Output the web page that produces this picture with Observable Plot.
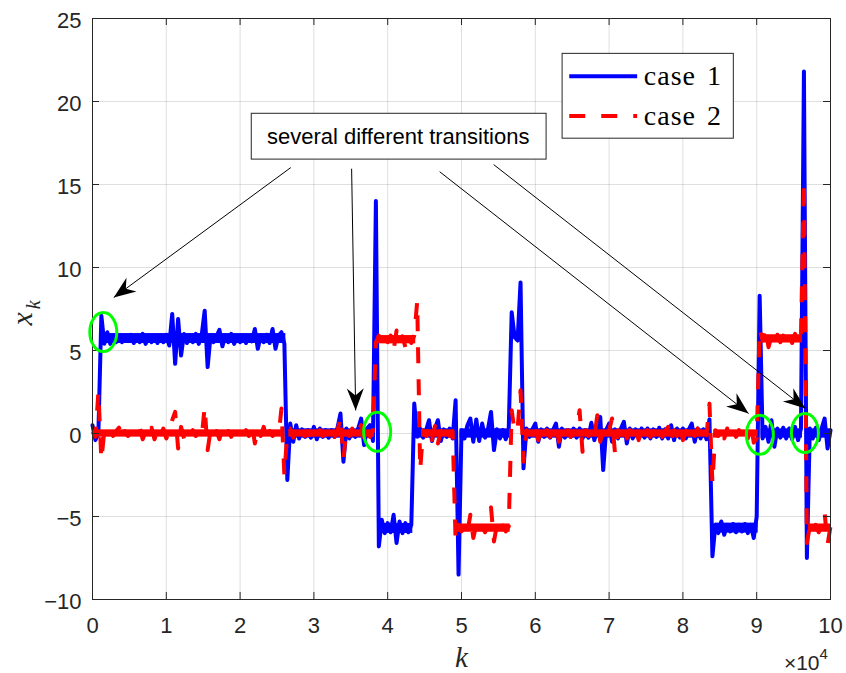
<!DOCTYPE html>
<html><head><meta charset="utf-8">
<script src="https://cdn.jsdelivr.net/npm/d3@7"></script>
<script src="https://cdn.jsdelivr.net/npm/@observablehq/plot@0.6"></script>
<style>
html,body{margin:0;padding:0;background:#fff;}
#chart svg{display:block;}
</style></head><body><div id="chart"></div>
<script>
// sample spacing of the read-off series (k in units of 1e4)
const kStep = 0.04;

// case 1 (blue, solid) values, one per sample
const case1 = [
0.5, -0.4, 0.1, 7.1, 5.4, 6.1, 5.4, 5.9, 5.5, 5.9,
5.5, 5.9, 5.6, 5.95, 5.45, 5.85, 5.5, 6.0, 5.4, 5.9,
5.5, 5.9, 5.45, 5.9, 5.5, 5.95, 5.3, 7.2, 4.2, 6.9,
4.7, 6.0, 5.45, 5.9, 5.5, 6.0, 5.4, 5.95, 7.4, 4.0,
5.9, 5.5, 5.85, 6.25, 5.25, 5.9, 5.5, 6.0, 5.4, 5.85,
5.5, 5.9, 5.45, 5.85, 5.55, 6.3, 5.1, 5.9, 5.5, 5.95,
5.45, 6.3, 5.1, 5.9, 6.1, 5.4, -2.8, 0.6, -0.5, 0.5,
-0.3, 0.25, -0.2, 0.2, -0.25, 0.4, -0.35, 0.3, -0.2, 0.2,
-0.25, 0.2, -0.2, 0.35, 1.2, -1.7, 0.3, -0.3, 0.25, -0.2,
0.3, 0.9, -0.7, 0.3, 0.5, -0.45, 14.0, -6.8, -5.2, -6.0,
-5.4, -5.95, -4.9, -6.6, -5.3, -6.0, -5.4, -5.95, -5.5, 1.8,
-0.2, 0.3, -0.25, 0.2, 0.8, -0.45, 0.3, 0.8, -0.45, 0.25,
-0.2, 0.3, -0.3, 2.0, -8.5, 0.2, -0.3, 0.5, 0.9, -0.5,
0.85, -0.45, 0.6, -0.25, 0.3, 1.3, -1.0, 0.25, -0.3, 0.2,
-0.35, 0.3, 7.3, 5.8, 5.6, 9.1, -2.1, 0.3, -0.2, 0.25,
0.6, -0.5, 0.25, -0.2, 0.3, -0.25, 0.2, 0.6, -0.8, 0.3,
-0.25, 0.2, -0.2, 0.3, -0.25, 0.3, -0.3, 0.2, -0.25, 0.65,
-0.4, 0.3, 1.0, -2.2, 0.2, 0.6, -0.5, 0.25, -0.3, 0.3,
0.7, -0.6, 0.3, -0.3, 0.25, -0.3, 0.3, -0.25, 0.3, -0.3,
0.25, -0.2, 0.35, -0.3, 0.25, -0.3, 0.5, -0.4, 0.3, -0.25,
0.3, -0.3, 0.25, 0.6, -0.5, 0.3, -0.3, 0.25, -0.35, 0.85,
-7.4, -5.5, -6.0, -5.3, -6.1, -5.5, -5.9, -5.45, -5.95, -5.5,
-5.9, -5.45, -6.0, -5.5, -6.3, -5.0, 8.3, -0.3, 0.4, -0.5,
0.8, -0.8, 0.3, -0.25, 0.35, -0.3, 0.3, -0.35, 0.4, -0.4,
0.3, 21.8, -7.5, 0.3, -0.3, 0.35, -0.4, 0.3, 0.9, -0.9, 0.2
];

// case 2 (red, dashed) values, one per sample
const case2 = [
0.1, -0.2, 2.5, -1.6, 0.15, -0.15, 0.1, -0.15, 0.15, 0.35,
-0.35, 0.15, -0.15, 0.1, -0.2, 0.15, 0.35, -0.35, 0.1, -0.15,
0.35, -0.35, 0.15, -0.15, 0.3, -0.3, 0.15, 0.8, 1.3, -0.9,
0.4, -0.3, 0.15, -0.15, 0.2, -0.15, 0.15, -0.2, 1.6, -1.0,
0.2, -0.15, 0.15, -0.35, 0.3, -0.15, 0.15, -0.2, 0.1, -0.15,
0.15, -0.1, 0.2, -0.15, 0.6, -0.6, 0.2, -0.15, 0.4, -0.4,
0.15, -0.15, 0.1, -0.2, 1.5, -2.5, 0.1, 0.3, -0.25, 0.15,
-0.15, 0.2, -0.15, 0.15, -0.2, 0.15, -0.15, 0.2, -0.15, 0.1,
-0.15, 0.15, -0.2, 0.15, 1.0, -1.5, 0.2, -0.15, 0.3, -0.3,
0.2, 0.5, -0.5, 0.2, -0.2, 0.15, 5.5, 5.9, 5.4, 5.85,
5.5, 5.9, 5.0, 6.2, 5.4, 5.85, 5.2, 6.0, 5.45, 5.9,
7.97, -2.2, 0.2, -0.15, 0.4, -0.4, 0.45, -0.6, 0.15, -0.2,
0.2, -0.15, 0.15, -6.5, -5.5, -5.9, -5.5, -5.95, -4.9, -6.3,
-5.5, -5.9, -5.6, -5.95, -5.5, -4.45, -6.5, -5.5, -5.9, -5.55,
-5.9, -5.6, 1.4, 0.1, 0.25, 2.6, -1.7, 0.2, -0.15, 0.2,
0.45, -0.4, 0.2, -0.15, 0.2, -0.2, 0.15, 0.5, -0.5, 0.2,
-0.15, 0.2, -0.2, 0.15, 0.25, 1.4, -1.1, 0.2, -0.15, 0.2,
-0.2, 1.1, -0.5, 0.2, -0.15, 0.2, 0.9, -1.2, 0.2, -0.2,
0.3, -0.3, 0.2, -0.15, 0.4, -0.4, 0.2, -0.15, 0.2, -0.2,
0.15, -0.15, 0.2, -0.2, 0.15, 0.4, -0.45, 0.2, -0.15, 0.4,
-0.4, 0.15, -0.2, 0.2, -0.15, 0.3, -0.3, 0.15, -0.1, 1.8,
-3.0, 0.2, -0.15, 0.3, -0.3, 0.3, -0.35, 0.15, -0.2, 0.2,
-0.15, 0.35, -0.3, 0.6, -0.55, -0.3, 6.3, 5.6, 6.3, 5.2,
5.85, 5.5, 5.95, 5.5, 5.9, 5.5, 5.85, 5.45, 6.0, 5.5,
5.9, 15.2, -6.6, -5.6, -5.9, -5.5, -5.95, -5.6, -4.75, -6.7, -5.6
];

// dense-noise envelope core of each level stretch: [k start, k end, low, high]
const case1Bands = [
  [0.00, 0.10, -0.28, 0.28],
  [0.12, 2.62, 5.42, 6.02],
  [2.66, 3.82, -0.28, 0.28],
  [3.88, 4.34, -6.02, -5.42],
  [4.40, 4.90, -0.28, 0.28],
  [4.98, 5.66, -0.28, 0.28],
  [5.88, 8.38, -0.28, 0.28],
  [8.44, 9.02, -6.0, -5.4],
  [9.06, 9.62, -0.28, 0.28],
  [9.70, 10.0, -0.28, 0.28]
];
const case2Bands = [
  [0.00, 2.56, -0.22, 0.22],
  [2.66, 3.82, -0.22, 0.22],
  [3.86, 4.38, 5.4, 5.9],
  [4.46, 4.90, -0.22, 0.22],
  [4.94, 5.66, -5.95, -5.45],
  [5.86, 8.34, -0.22, 0.22],
  [8.42, 9.02, -0.22, 0.22],
  [9.08, 9.62, 5.45, 5.95],
  [9.70, 10.0, -5.95, -5.45]
];

const xTicks = [0, 1, 2, 3, 4, 5, 6, 7, 8, 9, 10];
const xTickLabels = ["0", "1", "2", "3", "4", "5", "6", "7", "8", "9", "10"];
const yTicks = [-10, -5, 0, 5, 10, 15, 20, 25];
const yTickLabels = ["\u221210", "\u22125", "0", "5", "10", "15", "20", "25"];
const seriesNames = ["case 1", "case 2"];
const annotationText = "several different transitions";

// annotation geometry in data units
const annotationBox = {x1: 2.158, x2: 6.153, y1: 16.50, y2: 19.26, tx: 4.142, ty: 17.88};
const arrows = [
  {x1: 2.687, y1: 16.02, x2: 0.288, y2: 8.19},
  {x1: 3.511, y1: 15.95, x2: 3.566, y2: 1.39},
  {x1: 4.704, y1: 15.77, x2: 8.89, y2: 1.21},
  {x1: 5.436, y1: 16.20, x2: 9.66, y2: 1.51}
];
const circles = [
  {k: 0.153, v: 6.08},
  {k: 3.864, v: 0.07},
  {k: 9.05, v: -0.11},
  {k: 9.66, v: 0.0}
];
const legendBox = {x1: 6.37, x2: 8.69, y1: 17.76, y2: 22.87};
const legendRows = [
  {name: seriesNames[0], y: 21.52, lx1: 6.46, lx2: 7.38, tx: 7.47},
  {name: seriesNames[1], y: 19.13, lx1: 6.46, lx2: 7.38, tx: 7.47}
];

const W = 846, H = 673, mL = 92, mR = 16, mT = 18, mB = 74;
const xDomain = [0, 10], yDomain = [-10, 25];
const xPerPx = (xDomain[1] - xDomain[0]) / (W - mL - mR);
const yPerPx = (yDomain[1] - yDomain[0]) / (H - mT - mB);
const tickLen = 7;

const s1 = case1.map((v, i) => ({k: i * kStep, v}));
const s2 = case2.map((v, i) => ({k: i * kStep, v}));

const axisColor = "#262626";
const blue = "#0000ff", red = "#ff0000";
const sans = "'Liberation Sans', Arial, Helvetica, sans-serif";
const serif = "'Liberation Serif', 'Times New Roman', serif";

const bandOpts = (color) => ({x1: d => d[0], x2: d => d[1], y1: d => d[2], y2: d => d[3], fill: color});

const plot = Plot.plot({
  width: W, height: H,
  marginLeft: mL, marginRight: mR, marginTop: mT, marginBottom: mB,
  x: {domain: xDomain, axis: null},
  y: {domain: yDomain, axis: null},
  style: {fontFamily: sans, fontSize: "22px", color: axisColor, background: "white", overflow: "visible"},
  marks: [
    Plot.ruleX(xTicks, {x: d => d, stroke: axisColor, strokeOpacity: 0.15}),
    Plot.ruleY(yTicks, {y: d => d, stroke: axisColor, strokeOpacity: 0.15}),
    Plot.rect(case1Bands, bandOpts(blue)),
    Plot.line(s1, {x: "k", y: "v", stroke: blue, strokeWidth: 4, strokeLinejoin: "round", strokeLinecap: "round"}),
    Plot.rect(case2Bands, bandOpts(red)),
    Plot.line(s2, {x: "k", y: "v", stroke: red, strokeWidth: 4, strokeDasharray: "16,16", strokeLinejoin: "round", strokeLinecap: "butt"}),
    Plot.frame({stroke: axisColor, strokeWidth: 1}),
    Plot.ruleX(xTicks, {x: d => d, y1: yDomain[0], y2: yDomain[0] + tickLen * yPerPx, stroke: axisColor}),
    Plot.ruleX(xTicks, {x: d => d, y1: yDomain[1] - tickLen * yPerPx, y2: yDomain[1], stroke: axisColor}),
    Plot.ruleY(yTicks, {y: d => d, x1: xDomain[0], x2: xDomain[0] + tickLen * xPerPx, stroke: axisColor}),
    Plot.ruleY(yTicks, {y: d => d, x1: xDomain[1] - tickLen * xPerPx, x2: xDomain[1], stroke: axisColor}),
    Plot.text(xTicks, {x: d => d, y: yDomain[0], dy: 26, text: (d, i) => xTickLabels[i], fontSize: 22, fill: axisColor, textAnchor: "middle"}),
    Plot.text(yTicks, {x: xDomain[0], y: d => d, dx: -11, dy: 2, text: (d, i) => yTickLabels[i], fontSize: 22, fill: axisColor, textAnchor: "end"}),
    Plot.text(["\u00d710"], {x: xDomain[1], y: yDomain[0], dx: -11, dy: 64, fontSize: 21, fill: axisColor, textAnchor: "end"}),
    Plot.text(["4"], {x: xDomain[1], y: yDomain[0], dx: -11, dy: 55, fontSize: 15, fill: axisColor, textAnchor: "start"}),
    Plot.text(["k"], {x: 5, y: yDomain[0], dy: 58, fontSize: 29, fontStyle: "italic", fontFamily: serif, fill: axisColor}),
    Plot.text(["x"], {x: -0.95, y: 6.9, rotate: -90, fontSize: 30, fontStyle: "italic", fontFamily: serif, fill: axisColor}),
    Plot.text(["k"], {x: -0.80, y: 7.75, rotate: -90, fontSize: 20, fontStyle: "italic", fontFamily: serif, fill: axisColor}),
    // annotation
    Plot.rect([annotationBox], {x1: "x1", x2: "x2", y1: "y1", y2: "y2", fill: "white", stroke: axisColor, strokeWidth: 1}),
    Plot.text([annotationBox], {x: "tx", y: "ty", text: () => annotationText, fontSize: 22, fill: "#000"}),
    Plot.link(arrows, {x1: "x1", y1: "y1", x2: "x2", y2: "y2", stroke: "#000", strokeWidth: 1}),
    // legend
    Plot.rect([legendBox], {x1: "x1", x2: "x2", y1: "y1", y2: "y2", fill: "white", stroke: axisColor, strokeWidth: 1}),
    Plot.link([legendRows[0]], {x1: "lx1", x2: "lx2", y1: "y", y2: "y", stroke: blue, strokeWidth: 4}),
    Plot.link([legendRows[1]], {x1: "lx1", x2: "lx2", y1: "y", y2: "y", stroke: red, strokeWidth: 4, strokeDasharray: "16,16"}),
    Plot.text(legendRows, {x: "tx", y: "y", text: "name", fontSize: 28, fontFamily: serif, fill: "#000", textAnchor: "start"})
  ]
});

document.getElementById("chart").appendChild(plot);

// post-render decoration using the plot's own scales
const sx = plot.scale("x"), sy = plot.scale("y");
const sel = d3.select(plot);
const defs = sel.append("defs");
defs.append("marker")
  .attr("id", "ahead").attr("viewBox", "-24 -10 26 20")
  .attr("markerWidth", 26).attr("markerHeight", 20)
  .attr("refX", 0).attr("refY", 0).attr("orient", "auto")
  .attr("markerUnits", "userSpaceOnUse")
  .append("path").attr("d", "M0,0L-22,-8.5L-15,0L-22,8.5Z").attr("fill", "#000");

const linkGroups = sel.selectAll('g[aria-label="link"]').nodes();
if (linkGroups.length) d3.select(linkGroups[0]).selectAll("path").attr("marker-end", "url(#ahead)");

const eg = sel.append("g").attr("aria-label", "circles");
circles.forEach(c => {
  eg.append("ellipse")
    .attr("cx", sx.apply(c.k)).attr("cy", sy.apply(c.v))
    .attr("rx", 13.5).attr("ry", 19.5)
    .attr("fill", "none").attr("stroke", "#00ff00").attr("stroke-width", 3);
});
if (linkGroups.length) plot.insertBefore(eg.node(), linkGroups[0].previousSibling);

sel.selectAll("text").filter(function() { return this.textContent.startsWith("case"); })
  .attr("letter-spacing", "1px").attr("word-spacing", "3px");
</script>
</body></html>
